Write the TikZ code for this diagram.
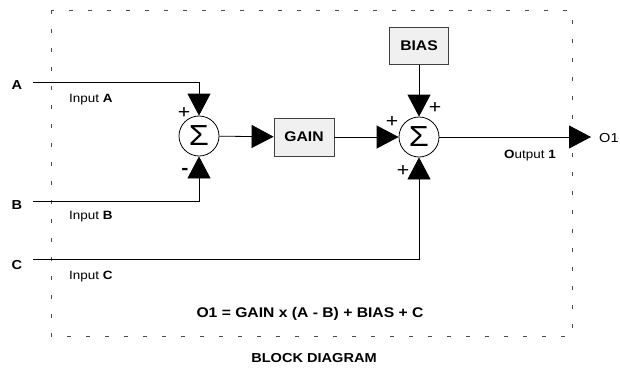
\documentclass[tikz,border=0pt]{standalone}
\usepackage{fontspec}
\setmainfont{Liberation Sans}[FakeStretch=1.12]
\usetikzlibrary{arrows.meta}
\begin{document}
\begin{tikzpicture}[x=1pt,y=-1pt,
  sumnode/.style={circle,draw,line width=0.8pt,minimum size=40pt,inner sep=0pt,font=\fontsize{29}{29}\selectfont},
  blk/.style={draw=black!75,fill=black!6,line width=0.8pt,font=\bfseries\fontsize{14}{16}\selectfont},
  wire/.style={line width=0.8pt},
  arr/.style={wire,-{Triangle[length=22pt,width=23pt]}},
  frame/.style={draw=black!70,line width=0.8pt,dash pattern=on 4pt off 15pt},
  lbl/.style={font=\bfseries\fontsize{13}{15}\selectfont},
  small/.style={font=\fontsize{12}{14}\selectfont},
  sign/.style={font=\fontsize{19}{19}\selectfont, inner sep=0pt}
]
\useasboundingbox (0,0) rectangle (620,370);
\draw[frame] (51,10) rectangle (572,336);

\node[sumnode] (s1) at (199,136) {Σ};
\node[sumnode] (s2) at (419,137) {Σ};
\node[blk, minimum width=60pt, minimum height=38pt] (gain) at (304,137) {GAIN};
\node[blk, minimum width=59pt, minimum height=37pt] (bias) at (419,46) {BIAS};

\node[lbl] (A) at (17,85) {A};
\node[lbl] (B) at (17,205) {B};
\node[lbl] (C) at (17,265) {C};
\coordinate (a0) at (33,82);
\coordinate (b0) at (33,201);
\coordinate (c0) at (33,259);
\coordinate (o1) at (591,137);

\draw[arr] (a0) -| (s1.north);
\draw[arr] (b0) -| (s1.south);
\draw[arr] (c0) -| (s2.south);
\draw[arr] (s1) -- (gain);
\draw[arr] (gain) -- (s2);
\draw[arr] (bias) -- (s2);
\draw[arr] (s2) -- (o1);

\node[anchor=west, font=\fontsize{13}{15}\selectfont, inner sep=0pt] (out) at (599,138) {O1};

\node[small, anchor=west, inner sep=0pt] (ia) at (69,100) {Input \textbf{A}};
\node[small, anchor=west, inner sep=0pt] (ib) at (69,217) {Input \textbf{B}};
\node[small, anchor=west, inner sep=0pt] (ic) at (69,277) {Input \textbf{C}};
\node[small] (o1lbl) at (530,156) {\textbf{O}utput \textbf{1}};

\node[sign] (p1) at (184,113) {+};
\node[sign] (m1) at (185,171) {\textbf{-}};
\node[sign] (p2) at (435,108) {+};
\node[sign] (p3) at (392,122) {+};
\node[sign] (p4) at (403,171) {+};

\node[font=\bfseries\fontsize{14}{16}\selectfont] (eq) at (310,314) {O1 = GAIN x (A - B) + BIAS + C};
\node[lbl] (title) at (314,358) {BLOCK DIAGRAM};
\end{tikzpicture}
\end{document}
